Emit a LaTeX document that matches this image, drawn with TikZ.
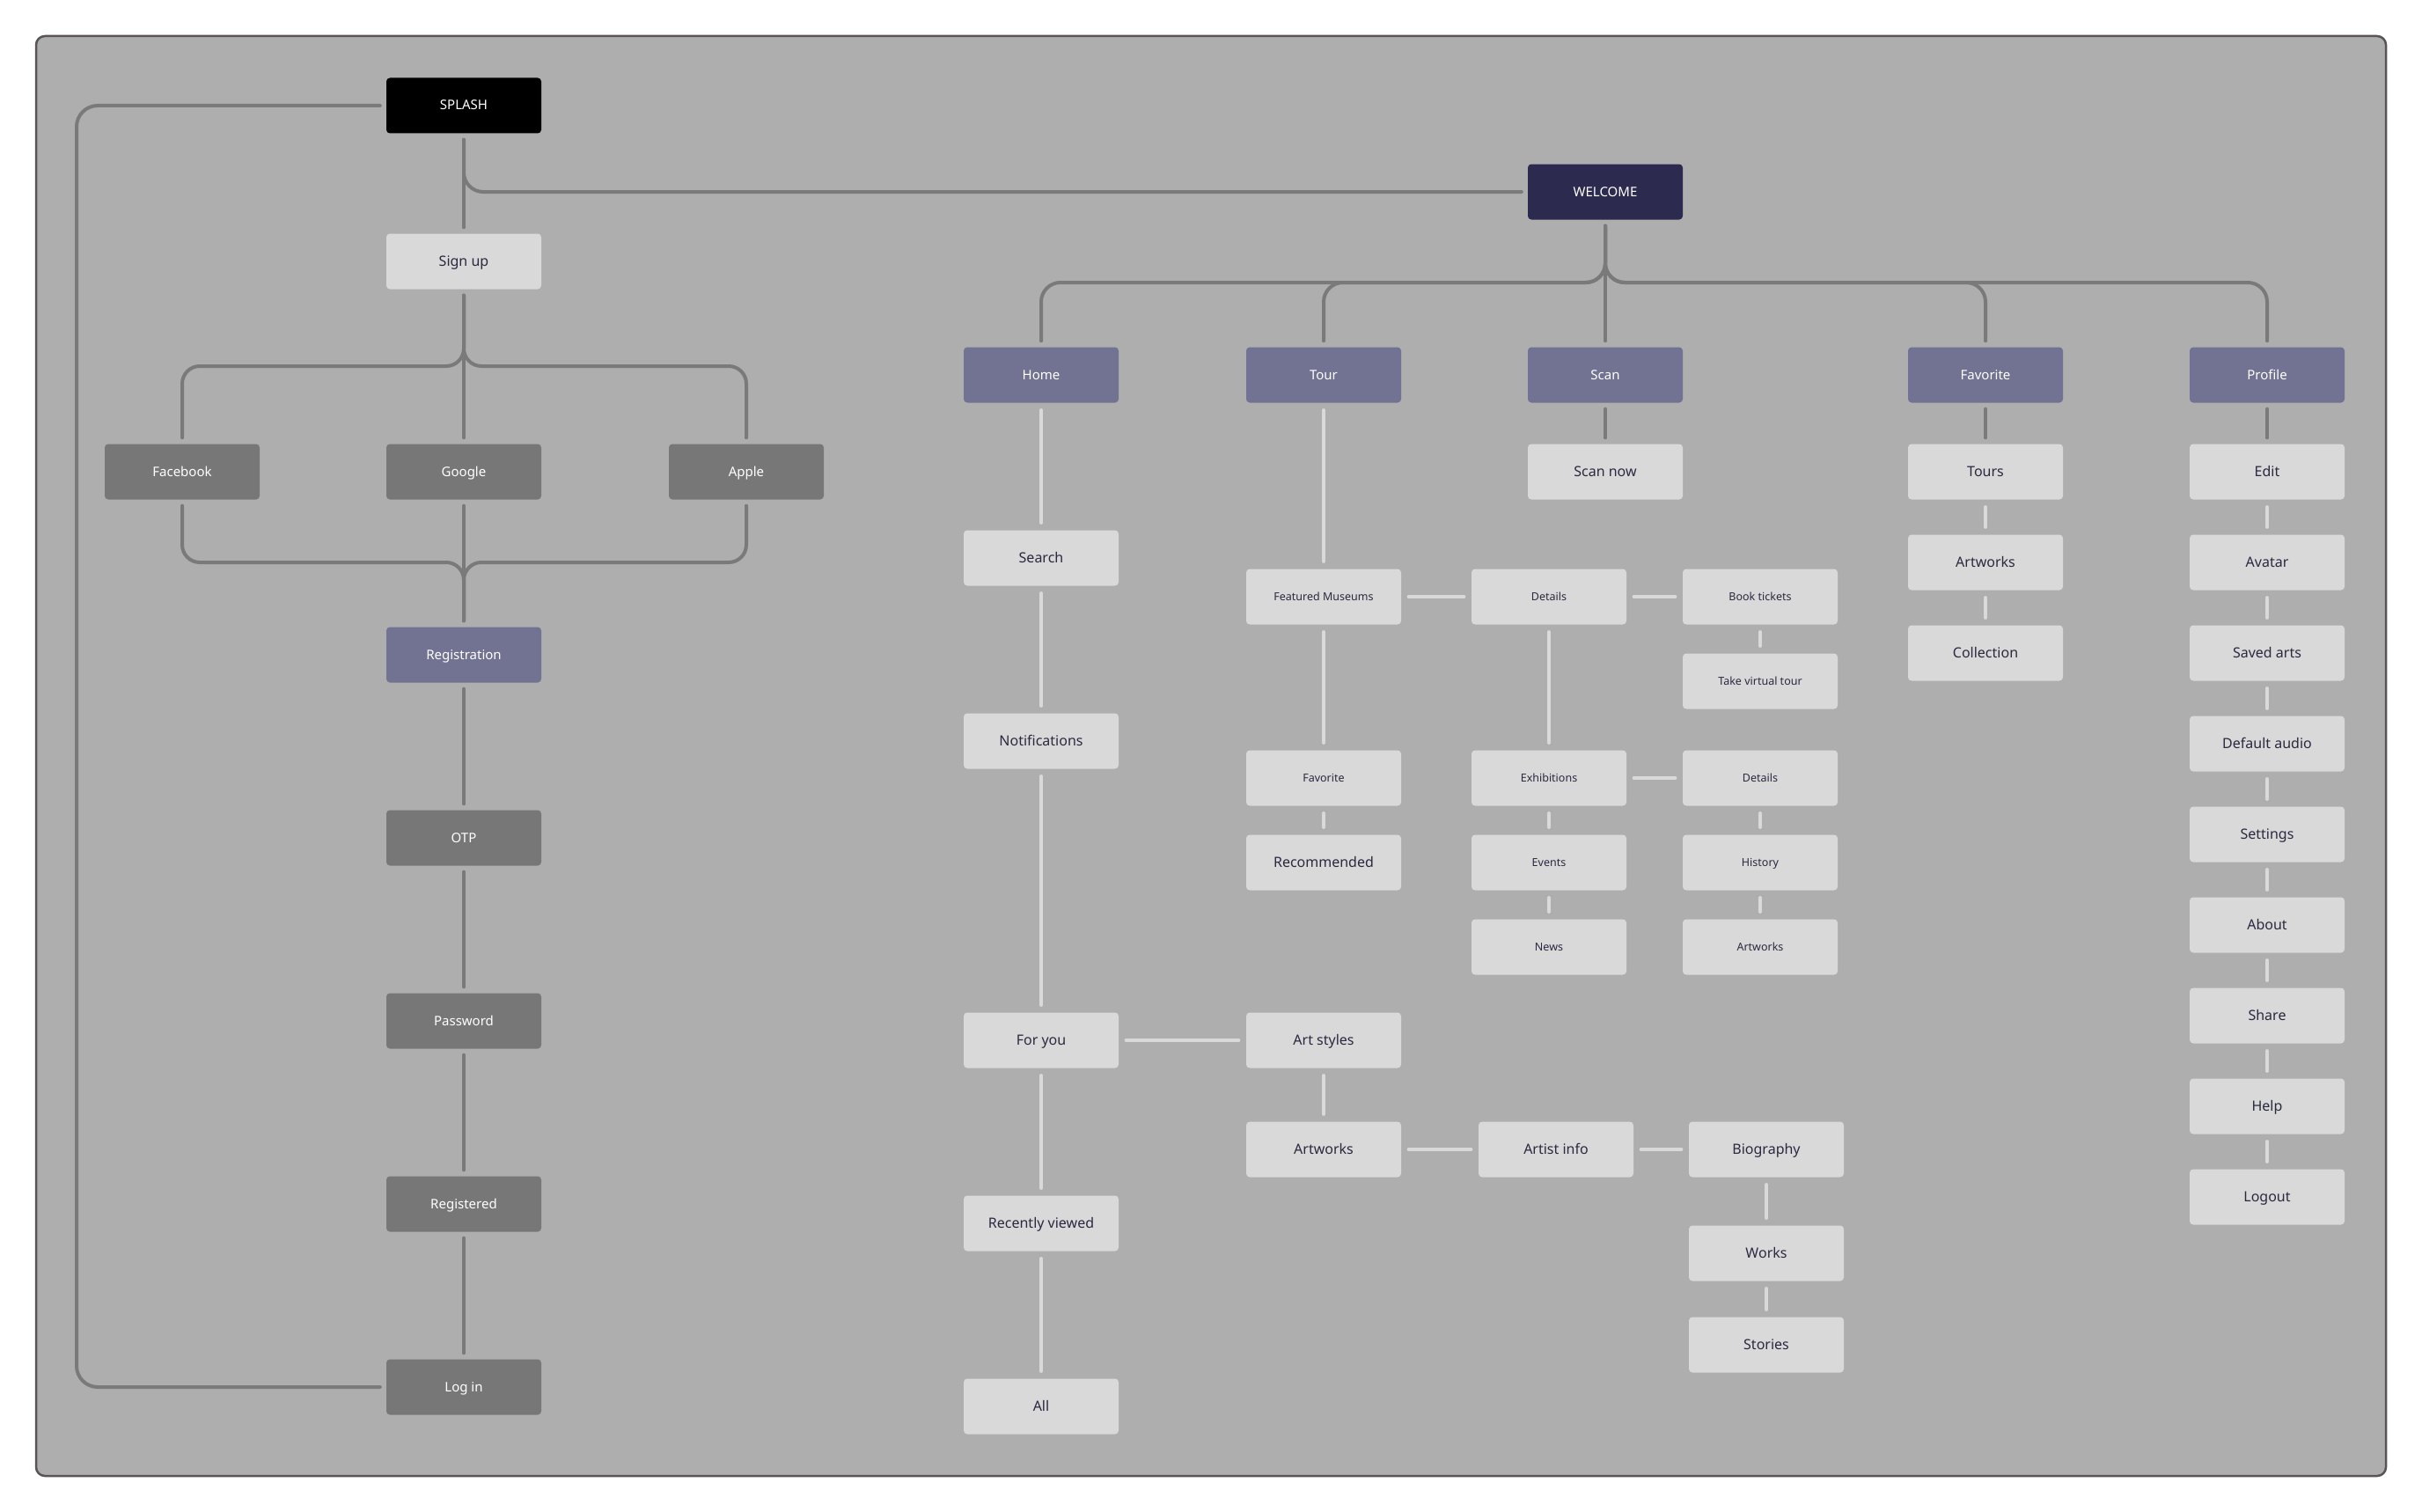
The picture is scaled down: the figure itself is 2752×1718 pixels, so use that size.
\documentclass[tikz,border=0pt]{standalone}
\usepackage{fontspec}
\setmainfont{Noto Sans}
\definecolor{navyc}{HTML}{2D2A50}
\definecolor{purpc}{HTML}{727292}
\definecolor{dgc}{HTML}{777777}
\definecolor{lgc}{HTML}{D9D9D9}
\definecolor{txtc}{HTML}{2A2940}
\definecolor{bgc}{HTML}{AEAEAE}
\definecolor{framec}{HTML}{5B5456}
\definecolor{linec}{HTML}{7A7A7A}
\begin{document}
\begin{tikzpicture}[x=1pt,y=-1pt,
 box/.style={rectangle, rounded corners=4pt, minimum width=176pt, minimum height=63pt, inner sep=0pt, text height=12pt, text depth=2pt, font=\fontsize{15}{18}\selectfont},
 blk/.style={box, fill=black, text=white},
 navy/.style={box, fill=navyc, text=white},
 purp/.style={box, fill=purpc, text=white},
 dgray/.style={box, fill=dgc, text=white},
 lgray/.style={box, fill=lgc, text=txtc, font=\fontsize{16}{18}\selectfont},
 sm/.style={font=\fontsize{12.5}{14}\selectfont, text height=10pt, text depth=2pt},
 dline/.style={draw=linec, line width=4pt, line cap=round, shorten <=7pt, shorten >=7pt, rounded corners=22pt},
 lline/.style={draw=lgc, line width=3.2pt, line cap=round, shorten <=8pt, shorten >=8pt}]
\useasboundingbox (0,0) rectangle (2752,1718);
\fill[white] (0,0) rectangle (2752,1718);
\draw[fill=bgc, draw=framec, line width=2.5pt, rounded corners=10pt] (41,41) rectangle (2711,1677);

% left column
\node[blk] (splash) at (527,120) {SPLASH};
\node[lgray] (signup) at (527,297) {Sign up};
\node[dgray] (facebook) at (207,536) {Facebook};
\node[dgray] (google) at (527,536) {Google};
\node[dgray] (apple) at (848,536) {Apple};
\node[purp] (registration) at (527,744) {Registration};
\node[dgray] (otp) at (527,952) {OTP};
\node[dgray] (password) at (527,1160) {Password};
\node[dgray] (registered) at (527,1368) {Registered};
\node[dgray] (login) at (527,1576) {Log in};

% welcome tree
\node[navy] (welcome) at (1824,218) {WELCOME};
\node[purp] (home) at (1183,426) {Home};
\node[purp] (tour) at (1504,426) {Tour};
\node[purp] (scan) at (1824,426) {Scan};
\node[purp] (favorite) at (2256,426) {Favorite};
\node[purp] (profile) at (2576,426) {Profile};

\node[lgray] (scannow) at (1824,536) {Scan now};
\node[lgray] (search) at (1183,634) {Search};
\node[lgray] (notif) at (1183,842) {Notifications};
\node[lgray] (foryou) at (1183,1182) {For you};
\node[lgray] (recent) at (1183,1390) {Recently viewed};
\node[lgray] (all) at (1183,1598) {All};

\node[lgray,sm] (featured) at (1504,678) {Featured Museums};
\node[lgray,sm] (favtour) at (1504,884) {Favorite};
\node[lgray] (recommended) at (1504,980) {Recommended};
\node[lgray] (artstyles) at (1504,1182) {Art styles};
\node[lgray] (artworksa) at (1504,1306) {Artworks};
\node[lgray,sm] (detailsa) at (1760,678) {Details};
\node[lgray,sm] (exhib) at (1760,884) {Exhibitions};
\node[lgray,sm] (events) at (1760,980) {Events};
\node[lgray,sm] (news) at (1760,1076) {News};
\node[lgray,sm] (book) at (2000,678) {Book tickets};
\node[lgray,sm] (virtual) at (2000,774) {Take virtual tour};
\node[lgray,sm] (detailsb) at (2000,884) {Details};
\node[lgray,sm] (history) at (2000,980) {History};
\node[lgray,sm] (artworksb) at (2000,1076) {Artworks};
\node[lgray] (artist) at (1768,1306) {Artist info};
\node[lgray] (bio) at (2007,1306) {Biography};
\node[lgray] (works) at (2007,1424) {Works};
\node[lgray] (stories) at (2007,1528) {Stories};

\node[lgray] (tours) at (2256,536) {Tours};
\node[lgray] (artworksc) at (2256,639) {Artworks};
\node[lgray] (collection) at (2256,742) {Collection};

\node[lgray] (edit) at (2576,536) {Edit};
\node[lgray] (avatar) at (2576,639) {Avatar};
\node[lgray] (saved) at (2576,742) {Saved arts};
\node[lgray] (audio) at (2576,845) {Default audio};
\node[lgray] (settings) at (2576,948) {Settings};
\node[lgray] (about) at (2576,1051) {About};
\node[lgray] (share) at (2576,1154) {Share};
\node[lgray] (help) at (2576,1257) {Help};
\node[lgray] (logout) at (2576,1360) {Logout};

% junction coordinates
\coordinate (loopc) at (87,1576);
\coordinate (sj) at (527,416);
\coordinate (rj) at (527,639);
\coordinate (wj) at (1824,321);

% dark connectors
\draw[dline] (splash.south) -- (signup.north);
\draw[dline] (splash.south) |- (welcome.west);
\draw[dline, rounded corners=24pt] (splash.west) -| (loopc) -- (login.west);
\draw[dline] (signup.south) -- (google.north);
\draw[dline, rounded corners=20pt] (signup.south) -- (sj) -| (facebook.north);
\draw[dline, rounded corners=20pt] (signup.south) -- (sj) -| (apple.north);
\draw[dline] (google.south) -- (registration.north);
\draw[dline, rounded corners=20pt] (facebook.south) |- (rj) -- (registration.north);
\draw[dline, rounded corners=20pt] (apple.south) |- (rj) -- (registration.north);
\draw[dline] (registration) -- (otp);
\draw[dline] (otp) -- (password);
\draw[dline] (password) -- (registered);
\draw[dline] (registered) -- (login);

\draw[dline] (welcome.south) -- (scan.north);
\draw[dline] (welcome.south) -- (wj) -| (home.north);
\draw[dline] (welcome.south) -- (wj) -| (tour.north);
\draw[dline] (welcome.south) -- (wj) -| (favorite.north);
\draw[dline] (welcome.south) -- (wj) -| (profile.north);
\draw[dline] (scan) -- (scannow);
\draw[dline] (favorite) -- (tours);
\draw[dline] (profile) -- (edit);

% light connectors
\draw[lline] (home) -- (search);
\draw[lline] (search) -- (notif);
\draw[lline] (notif) -- (foryou);
\draw[lline] (foryou) -- (recent);
\draw[lline] (recent) -- (all);
\draw[lline] (tour) -- (featured);
\draw[lline] (featured) -- (favtour);
\draw[lline] (favtour) -- (recommended);
\draw[lline] (featured) -- (detailsa);
\draw[lline] (detailsa) -- (book);
\draw[lline] (book) -- (virtual);
\draw[lline] (detailsa) -- (exhib);
\draw[lline] (exhib) -- (events);
\draw[lline] (events) -- (news);
\draw[lline] (exhib) -- (detailsb);
\draw[lline] (detailsb) -- (history);
\draw[lline] (history) -- (artworksb);
\draw[lline] (foryou) -- (artstyles);
\draw[lline] (artstyles) -- (artworksa);
\draw[lline] (artworksa) -- (artist);
\draw[lline] (artist) -- (bio);
\draw[lline] (bio) -- (works);
\draw[lline] (works) -- (stories);
\draw[lline] (tours) -- (artworksc);
\draw[lline] (artworksc) -- (collection);
\draw[lline] (edit) -- (avatar);
\draw[lline] (avatar) -- (saved);
\draw[lline] (saved) -- (audio);
\draw[lline] (audio) -- (settings);
\draw[lline] (settings) -- (about);
\draw[lline] (about) -- (share);
\draw[lline] (share) -- (help);
\draw[lline] (help) -- (logout);
\end{tikzpicture}
\end{document}
